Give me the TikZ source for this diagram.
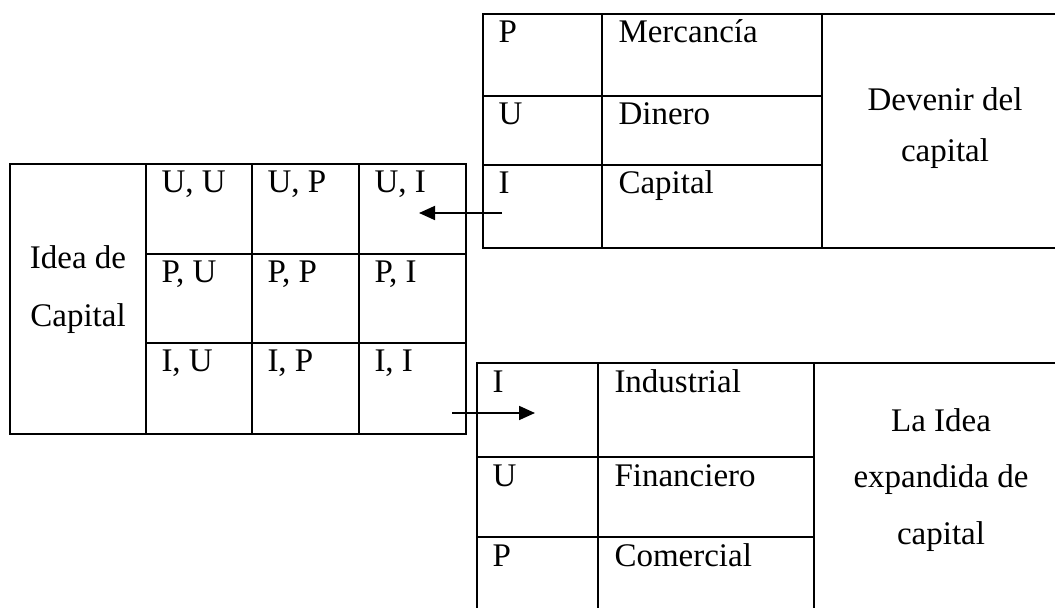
\documentclass[tikz,border=0pt]{standalone}
\usepackage{fontspec}
\setmainfont{Liberation Serif}
\usetikzlibrary{arrows.meta,fit,calc}

\tikzset{
  cell/.style={draw=black, line width=0.9pt, inner sep=0pt, rectangle},
  lbl/.style={anchor=base west, inner sep=0pt, font=\fontsize{16.5}{27}\selectfont},
  mid/.style={anchor=base, inner sep=0pt, font=\fontsize{16.5}{27}\selectfont},
  link/.style={line width=0.9pt, -{Triangle[length=8pt,width=7pt]}}
}

\begin{document}
\begin{tikzpicture}[x=0.5pt, y=-0.5pt]
\useasboundingbox (0,0) rectangle (1055,608);
\clip (0,0) rectangle (1055,608);

% ---- Devenir del capital (top right)
\node[cell, fit={(483,14) (602,96)}] (tp1) {};
\node[cell, fit={(602,14) (822,96)}] (tp2) {};
\node[cell, fit={(483,96) (602,165)}] (tu1) {};
\node[cell, fit={(602,96) (822,165)}] (tu2) {};
\node[cell, fit={(483,165) (602,248)}] (ti1) {};
\node[cell, fit={(602,165) (822,248)}] (ti2) {};
\node[cell, fit={(822,14) (1068,248)}] (tdev) {};

\node[lbl] at ($(tp1.north west)+(16,29)$) {P};
\node[lbl] at ($(tp2.north west)+(17,29)$) {Mercancía};
\node[lbl] at ($(tu1.north west)+(16,29)$) {U};
\node[lbl] at ($(tu2.north west)+(17,29)$) {Dinero};
\node[lbl] at ($(ti1.north west)+(16,29)$) {I};
\node[lbl] at ($(ti2.north west)+(17,29)$) {Capital};
\node[mid] (dev1) at (945,111) {Devenir del};
\node[mid] (dev2) at (945,162) {capital};

% ---- Idea de Capital (left)
\node[cell, fit={(10,164) (146,434)}] (idea) {};
\node[cell, fit={(146,164) (252,254)}] (uu) {};
\node[cell, fit={(252,164) (359,254)}] (up) {};
\node[cell, fit={(359,164) (466,254)}] (ui) {};
\node[cell, fit={(146,254) (252,343)}] (pu) {};
\node[cell, fit={(252,254) (359,343)}] (pp) {};
\node[cell, fit={(359,254) (466,343)}] (pi) {};
\node[cell, fit={(146,343) (252,434)}] (iu) {};
\node[cell, fit={(252,343) (359,434)}] (ip) {};
\node[cell, fit={(359,343) (466,434)}] (ii) {};

\node[mid] (idea1) at (78,269) {Idea de};
\node[mid] (idea2) at (78,327) {Capital};
\node[lbl] at ($(uu.north west)+(16,29)$) {U, U};
\node[lbl] at ($(up.north west)+(16,29)$) {U, P};
\node[lbl] at ($(ui.north west)+(16,29)$) {U, I};
\node[lbl] at ($(pu.north west)+(16,29)$) {P, U};
\node[lbl] at ($(pp.north west)+(16,29)$) {P, P};
\node[lbl] at ($(pi.north west)+(16,29)$) {P, I};
\node[lbl] at ($(iu.north west)+(16,29)$) {I, U};
\node[lbl] at ($(ip.north west)+(16,29)$) {I, P};
\node[lbl] at ($(ii.north west)+(16,29)$) {I, I};

% ---- La Idea expandida de capital (bottom right)
\node[cell, fit={(477,363) (598,457)}] (bi1) {};
\node[cell, fit={(598,363) (814,457)}] (bi2) {};
\node[cell, fit={(477,457) (598,537)}] (bu1) {};
\node[cell, fit={(598,457) (814,537)}] (bu2) {};
\node[cell, fit={(477,537) (598,620)}] (bp1) {};
\node[cell, fit={(598,537) (814,620)}] (bp2) {};
\node[cell, fit={(814,363) (1068,620)}] (bexp) {};

\node[lbl] at ($(bi1.north west)+(16,30)$) {I};
\node[lbl] at ($(bi2.north west)+(17,30)$) {Industrial};
\node[lbl] at ($(bu1.north west)+(16,30)$) {U};
\node[lbl] at ($(bu2.north west)+(17,30)$) {Financiero};
\node[lbl] at ($(bp1.north west)+(16,30)$) {P};
\node[lbl] at ($(bp2.north west)+(17,30)$) {Comercial};
\node[mid] (exp1) at (941,432) {La Idea};
\node[mid] (exp2) at (941,488) {expandida de};
\node[mid] (exp3) at (941,545) {capital};

% ---- connectors
\coordinate (capsrc) at (502,213);
\coordinate (uitip) at (419,213);
\draw[link] (capsrc) -- (uitip);
\coordinate (iisrc) at (452,413);
\coordinate (indtip) at (535,413);
\draw[link] (iisrc) -- (indtip);
\end{tikzpicture}
\end{document}
